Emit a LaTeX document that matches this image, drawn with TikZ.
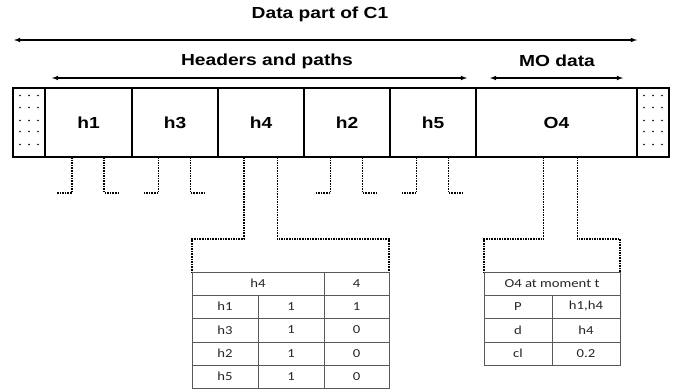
\documentclass[tikz,border=0pt]{standalone}
\usepackage{fontspec}
\usepackage{graphicx}
\setmainfont{Liberation Sans}
\newfontfamily\cellfont{Carlito}
\usetikzlibrary{positioning,calc}
\newcommand{\wt}[1]{\scalebox{1.2}[1]{#1}}

\begin{document}
\begin{tikzpicture}[
  x=1pt, y=-1pt,
  every path/.style={>=latex},
  padbox/.style={draw,line width=1.4pt,inner sep=0,outer sep=0,minimum width=32,minimum height=69},
  field/.style={draw,line width=1.4pt,inner sep=0,outer sep=0,minimum width=86,minimum height=69,
    font=\bfseries\fontsize{16}{18}\selectfont},
  headline/.style={font=\bfseries\fontsize{16}{19}\selectfont},
  extent/.style={<->,line width=1.1pt},
  dotlink/.style={densely dotted,line width=1.6pt},
  cell/.style={font=\cellfont\fontsize{12.25}{14}\selectfont,text=black!85},
  tabline/.style={black!65,line width=0.8pt},
  ]
  \useasboundingbox (0,0) rectangle (675,389);
  % record layout
  \node[padbox] (padL) at (29,122.5) {};
  \node[field,minimum width=87,right=0pt of padL] (h1) {\wt{h1}};
  \node[field,right=0pt of h1] (h3) {\wt{h3}};
  \node[field,right=0pt of h3] (h4) {\wt{h4}};
  \node[field,right=0pt of h4] (h2) {\wt{h2}};
  \node[field,right=0pt of h2] (h5) {\wt{h5}};
  \node[field,minimum width=161,right=0pt of h5] (O4) {\wt{O4}};
  \node[padbox,right=0pt of O4] (padR) {};
  \foreach \p in {padL,padR}
    \foreach \dx in {-9,0,9}
      \foreach \dy in {-27,-15,-2,9,22}
        \fill ($(\p)+(\dx,\dy)$) circle (0.9);
  % extents
  \node[headline] (lblData) at (320,14) {\wt{Data part of C1}};
  \node[headline] (lblHead) at (267,61) {\wt{Headers and paths}};
  \node[headline] (lblMO) at (557,61) {\wt{MO data}};
  \coordinate (dataL) at (14,40);
  \coordinate (dataR) at (637,40);
  \coordinate (headL) at (52,78);
  \coordinate (headR) at (467,78);
  \coordinate (moL) at (490,78);
  \coordinate (moR) at (623,78);
  \draw[extent] (dataL) -- (dataR);
  \draw[extent] (headL) -- (headR);
  \draw[extent] (moL) -- (moR);
  % short stubs
  \foreach \b in {h1,h3,h2,h5} {
    \draw[dotlink] ($(\b.south west)!0.31!(\b.south east)$) -- ++(0,36) -- ++(-15,0);
    \draw[dotlink] ($(\b.south west)!0.68!(\b.south east)$) -- ++(0,36) -- ++(15,0);
  }
  % tables
  \coordinate (tabH4) at (192,272);
  \coordinate (tabH4e) at (389,272);
  \coordinate (tabO4) at (484,272);
  \coordinate (tabO4e) at (620,272);
  \draw[dotlink] ($(h4.south west)!0.3!(h4.south east)$) -- ++(0,82) -| (tabH4);
  \draw[dotlink] ($(h4.south west)!0.69!(h4.south east)$) -- ++(0,82) -| (tabH4e);
  \draw[dotlink] ($(O4.south west)!0.42!(O4.south east)$) -- ++(0,82) -| (tabO4);
  \draw[dotlink] ($(O4.south west)!0.63!(O4.south east)$) -- ++(0,82) -| (tabO4e);
  % table of h4
  \draw[tabline] (tabH4) rectangle (389,388);
  \foreach \y in {295,318,342,365} \draw[tabline] (192,\y) -- (389,\y);
  \draw[tabline] (324,272) -- (324,388);
  \draw[tabline] (258,295) -- (258,388);
  \node[cell] (cH4) at (258,283.5) {\wt{h4}};
  \node[cell] (cH4n) at (356.5,283.5) {\wt{4}};
  \foreach \y/\a/\b/\c in {306.5/h1/1/1,330/h3/1/0,353.5/h2/1/0,376.5/h5/1/0} {
    \node[cell] at (225,\y) {\wt{\a}};
    \node[cell] at (291,\y) {\wt{\b}};
    \node[cell] at (356.5,\y) {\wt{\c}};
  }
  % table of O4
  \draw[tabline] (tabO4) rectangle (620,365);
  \foreach \y in {295,318,342} \draw[tabline] (484,\y) -- (620,\y);
  \draw[tabline] (552,295) -- (552,365);
  \node[cell] (cO4) at (552,283.5) {\wt{O4 at moment t}};
  \foreach \y/\a/\b in {306.5/P/{h1,h4},330/d/h4,353.5/cl/0.2} {
    \node[cell] at (518,\y) {\wt{\a}};
    \node[cell] at (586,\y) {\wt{\b}};
  }
\end{tikzpicture}
\end{document}
